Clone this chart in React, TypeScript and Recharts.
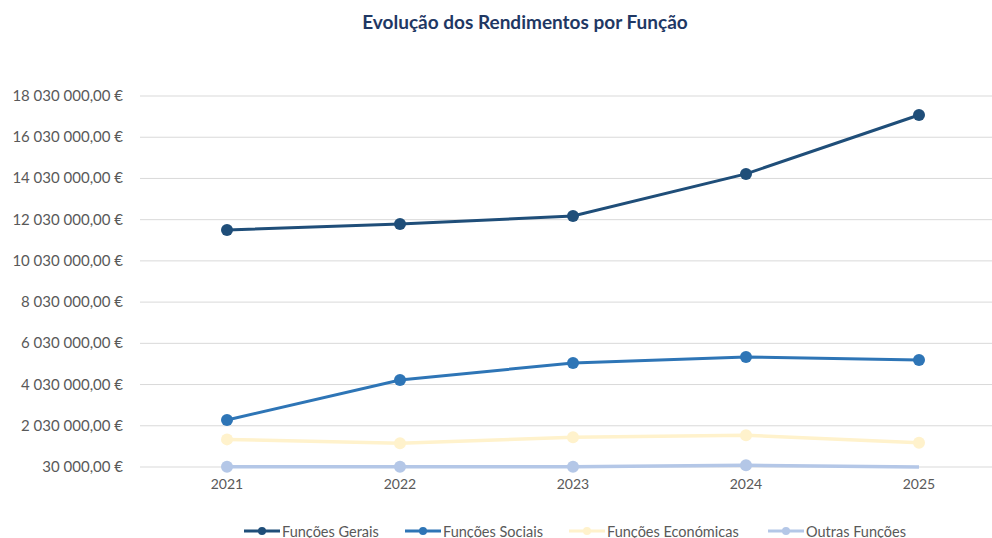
import React from 'react';
import { LineChart, Line, XAxis, YAxis, CartesianGrid, Legend } from 'recharts';

const years = ['2021', '2022', '2023', '2024', '2025'];
const funcoesGerais = [11530000, 11820000, 12210000, 14250000, 17110000];
const funcoesSociais = [2310000, 4250000, 5080000, 5370000, 5220000];
const funcoesEconomicas = [1370000, 1180000, 1470000, 1570000, 1210000];
const outrasFuncoes = [40000, 40000, 40000, 110000, 30000];
const outrasSemMarcador = ['2025'];
const yTicks = [30000, 2030000, 4030000, 6030000, 8030000, 10030000, 12030000, 14030000, 16030000, 18030000];

const series = [
  { key: 'gerais', name: 'Funções Gerais', color: '#1F4E79', width: 3 },
  { key: 'sociais', name: 'Funções Sociais', color: '#2E75B6', width: 3 },
  { key: 'economicas', name: 'Funções Económicas', color: '#FFF2CC', width: 3.5 },
  { key: 'outras', name: 'Outras Funções', color: '#B4C7E7', width: 3.5 },
];

const data = years.map((y, i) => ({
  year: y,
  gerais: funcoesGerais[i],
  sociais: funcoesSociais[i],
  economicas: funcoesEconomicas[i],
  outras: outrasFuncoes[i],
}));

const FONT = 'Lato, "Open Sans", sans-serif';

function fmt(v: number) {
  const s = Math.round(v).toString().replace(/\B(?=(\d{3})+(?!\d))/g, ' ');
  return s + ',00 €';
}

const YTick = (props: any) => {
  const { y, payload } = props;
  return (
    <text x={123} y={y} dy={5} textAnchor="end" fill="#595959" fontSize={15} fontFamily={FONT}>
      {fmt(payload.value)}
    </text>
  );
};

const XTick = (props: any) => {
  const { x, y, payload } = props;
  return (
    <text x={x} y={y} dy={14} textAnchor="middle" fill="#595959" fontSize={14} fontFamily={FONT}>
      {payload.value}
    </text>
  );
};

const makeDot = (color: string, skip: string[]) => (props: any) => {
  const { cx, cy, payload, index } = props;
  if (skip.includes(payload.year)) return <g key={`d${index}`} />;
  return <circle key={`d${index}`} cx={cx} cy={cy} r={6} fill={color} stroke="none" />;
};

const legendLefts = [244, 405, 569, 768];

const LegendContent = () => (
  <div style={{ position: 'relative', height: 20, width: 992 }}>
    {series.map((s, i) => (
      <div key={s.key} style={{ position: 'absolute', left: legendLefts[i], top: 3, display: 'flex', alignItems: 'center', height: 20 }}>
        <svg width={36} height={12} style={{ display: 'block' }}>
          <line x1={0} y1={6} x2={36} y2={6} stroke={s.color} strokeWidth={3} />
          <circle cx={18} cy={6} r={4} fill={s.color} />
        </svg>
        <span style={{ fontFamily: FONT, fontSize: 14.5, color: '#595959', marginLeft: 2, whiteSpace: 'nowrap' }}>{s.name}</span>
      </div>
    ))}
  </div>
);

export default function App() {
  return (
    <div style={{ position: 'absolute', left: 0, top: 0, width: 992, height: 538, background: '#fff', overflow: 'hidden' }}>
      <div style={{ position: 'absolute', left: 0, top: 10, width: 1050, textAlign: 'center', fontFamily: FONT, fontWeight: 700, fontSize: 19, color: '#1F3864' }}>
        Evolução dos Rendimentos por Função
      </div>
      <LineChart width={992} height={538} data={data} margin={{ top: 96, right: 0, bottom: 21, left: 0 }}>
        <CartesianGrid vertical={false} stroke="#D9D9D9" strokeWidth={1} />
        <XAxis dataKey="year" axisLine={false} tickLine={false} height={30} padding={{ left: 87, right: 73 }} tick={<XTick />} interval={0} />
        <YAxis width={140} domain={[30000, 18030000]} ticks={yTicks} axisLine={false} tickLine={false} tick={<YTick />} interval={0} />
        <Legend verticalAlign="bottom" height={20} content={<LegendContent />} wrapperStyle={{ left: 0, bottom: 0 }} />
        {series.map((s) => (
          <Line
            key={s.key}
            type="linear"
            dataKey={s.key}
            name={s.name}
            stroke={s.color}
            strokeWidth={s.width}
            dot={makeDot(s.color, s.key === 'outras' ? outrasSemMarcador : [])}
            activeDot={false}
            isAnimationActive={false}
          />
        ))}
      </LineChart>
    </div>
  );
}
